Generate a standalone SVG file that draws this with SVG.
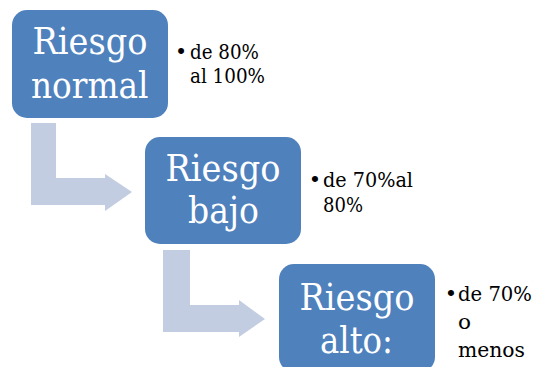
<svg xmlns="http://www.w3.org/2000/svg" width="538" height="367" viewBox="0 0 538 367">
<style>
.box{fill:#4f81bd;}
.arr{fill:#c3cde2;}
text{font-family:'DejaVu Serif','Liberation Serif',serif;}
.t{font-size:37.5px;fill:#ffffff;}
.b1{font-size:20.6px;fill:#000000;}
.b2{font-size:21px;fill:#000000;}
.b3{font-size:21px;fill:#000000;}
.dot{text-anchor:middle;}
</style>
<rect width="538" height="367" fill="#ffffff"/>
<g id="connectors">
<path class="arr" d="M31,123 H56 V178 H105 V174 L132,192 L105,211 V205 H31 Z"/>
<path class="arr" d="M163,250 H190 V305 H239 V300 L265,319 L239,337 V332 H163 Z"/>
</g>
<g id="node1">
<rect class="box" x="12" y="10" width="156" height="108" rx="15" ry="15"/>
<text class="t" x="32.5" y="54" textLength="115" lengthAdjust="spacingAndGlyphs">Riesgo</text>
<text class="t" x="31" y="98" textLength="117.5" lengthAdjust="spacingAndGlyphs">normal</text>
<text class="b1 dot" x="181" y="59">•</text>
<text class="b1" x="190" y="59" textLength="69" lengthAdjust="spacingAndGlyphs">de 80%</text>
<text class="b1" x="190" y="83" textLength="75" lengthAdjust="spacingAndGlyphs">al 100%</text>
</g>
<g id="node2">
<rect class="box" x="145" y="137" width="156" height="107" rx="15" ry="15"/>
<text class="t" x="165.5" y="181" textLength="115" lengthAdjust="spacingAndGlyphs">Riesgo</text>
<text class="t" x="188" y="223" textLength="71" lengthAdjust="spacingAndGlyphs">bajo</text>
<text class="b2 dot" x="315" y="187">•</text>
<text class="b2" x="323" y="187" textLength="90" lengthAdjust="spacingAndGlyphs">de 70%al</text>
<text class="b2" x="323" y="212" textLength="40" lengthAdjust="spacingAndGlyphs">80%</text>
</g>
<g id="node3">
<rect class="box" x="279" y="264" width="156" height="108" rx="15" ry="15"/>
<text class="t" x="299.5" y="310" textLength="115" lengthAdjust="spacingAndGlyphs">Riesgo</text>
<text class="t" x="320" y="353" textLength="73" lengthAdjust="spacingAndGlyphs">alto:</text>
<text class="b3 dot" x="451" y="301">•</text>
<text class="b3" x="458" y="301" textLength="74" lengthAdjust="spacingAndGlyphs">de 70%</text>
<text class="b3" x="458" y="329" textLength="13" lengthAdjust="spacingAndGlyphs">o</text>
<text class="b3" x="458" y="357" textLength="67" lengthAdjust="spacingAndGlyphs">menos</text>
</g>
</svg>
